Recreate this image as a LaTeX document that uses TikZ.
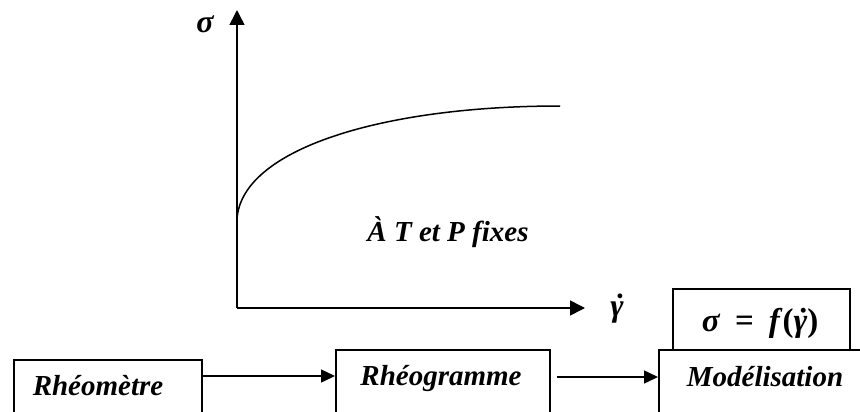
\documentclass[tikz,border=0pt]{standalone}
\usepackage{fontspec}
\setmainfont{Liberation Serif}
\usetikzlibrary{arrows.meta}
\newcommand\gdot{γ\kern-0.2em\char"0307\kern0.2em}
\begin{document}
\begin{tikzpicture}[x=1pt,y=-1pt,
  box/.style={draw,line width=1.5pt,inner sep=0pt,anchor=north west},
  lbl/.style={font=\fontsize{29}{32}\selectfont\bfseries\itshape,anchor=base,inner sep=0pt},
  axlbl/.style={font=\fontsize{32}{34}\selectfont\bfseries\itshape,anchor=base,inner sep=0pt},
  axis/.style={line width=1.6pt,-{Triangle[length=15pt,width=15pt]}},
  conn/.style={line width=1.5pt,-{Triangle[length=14pt,width=13pt]}}]
\useasboundingbox (0,0) rectangle (860,412);
\clip (0,0) rectangle (860,412);
% axes and curve
\coordinate (o) at (237,308);
\coordinate (ytop) at (237,10);
\coordinate (xend) at (585,308);
\coordinate (c0) at (237,220);
\coordinate (c1) at (560,106);
\draw[axis] (o) -- (ytop);
\draw[axis] (o) -- (xend);
\draw[line width=1.5pt] (c0) .. controls (240,150) and (380,106) .. (c1);
\node[axlbl] (sig) at (205,33) {σ};
\node[axlbl] (gam) at (617,316) {\gdot};
\node[axlbl,font=\fontsize{29}{31}\selectfont\bfseries\itshape] (cond) at (448,241) {À T et P fixes};
% boxes
\node[box,minimum width=188pt,minimum height=80pt] (rhm) at (13,359) {};
\node[box,minimum width=214pt,minimum height=90pt] (rhg) at (335,349) {};
\node[box,minimum width=230pt,minimum height=90pt] (mod) at (658,349) {};
\node[box,minimum width=177pt,minimum height=61pt] (eq) at (672,288) {};
\node[lbl] (t1) at (98,395) {Rhéomètre};
\node[lbl] (t2) at (441,385) {Rhéogramme};
\node[lbl] (t3) at (765,386) {Modélisation};
\node[lbl,font=\fontsize{33}{36}\selectfont\bfseries] (t4) at (760,331) {\textit{σ}\hspace{0.45em}=\hspace{0.45em}\textit{f}(\textit{\gdot})};
% connectors
\draw[conn] (rhm.east |- 0,376) -- (rhg.west |- 0,376);
\draw[conn] ([xshift=6pt]rhg.east |- 0,377) -- (mod.west |- 0,377);
\end{tikzpicture}
\end{document}
